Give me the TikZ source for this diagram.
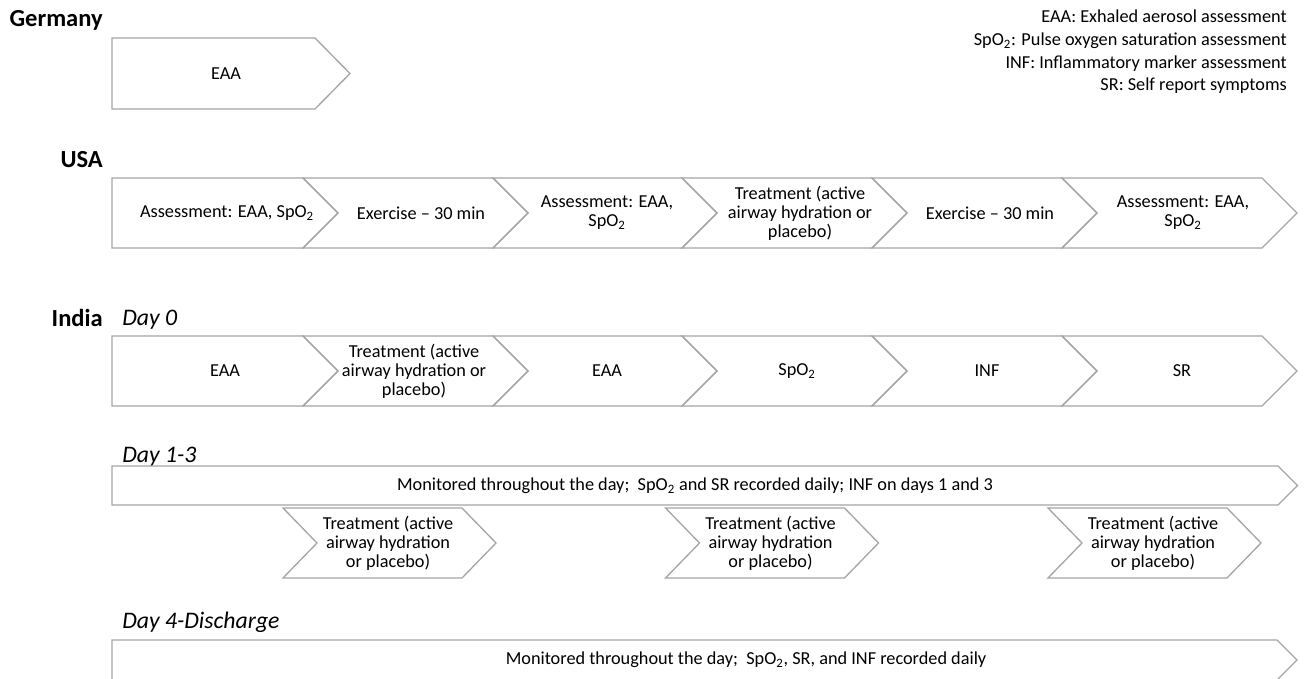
\documentclass[tikz,border=0pt]{standalone}
\usepackage{fontspec}
\setmainfont{Carlito}
\usepackage{tikz}

\definecolor{stageline}{HTML}{A5A5A5}

% one stage of a row: left, shoulder, top, bottom, tip depth, notch depth
\newcommand{\stagebox}[6]{%
  \pgfmathsetmacro{\stagemid}{(#3+#4)/2}
  \draw[stage] (#1,#3) -- (#2,#3) -- (#2+#5,\stagemid) -- (#2,#4) -- (#1,#4) -- (#1+#6,\stagemid) -- cycle;
}

\begin{document}
\begin{tikzpicture}[
    x=0.75pt, y=-0.75pt,
    stage/.style={draw=stageline, line width=1pt, line join=miter},
    every node/.style={font=\fontsize{13.7}{14.4}\selectfont, align=center, inner sep=0pt},
    country/.style={font=\fontsize{18.4}{21}\selectfont\bfseries, anchor=east},
    day/.style={font=\fontsize{17.8}{20}\selectfont\itshape, anchor=west}
]
\useasboundingbox (0,0) rectangle (1306,678);

% Row labels
\node[country] (germany) at (103,20) {Germany};
\node[country] (usa) at (103,160) {USA};
\node[country] (india) at (103,318) {India};
\node[day] (day0) at (122,320) {Day 0};
\node[day] (day13) at (122,457) {Day 1-3};
\node[day] (day4) at (122,622) {Day 4-Discharge};

% Legend
\node[anchor=east, align=right, font=\fontsize{13.7}{17}\selectfont] (legend) at (1287,52)
  {EAA: Exhaled aerosol assessment\\SpO\textsubscript{2}: Pulse oxygen saturation assessment\\INF: Inflammatory marker assessment\\SR: Self report symptoms};

% Germany
\stagebox{112}{315}{38}{109}{35}{0}
\node (gerEAA) at (226,73.5) {EAA};

% USA and India day 0 rows
\foreach \t/\b in {178/248, 336/406} {
  \stagebox{112}{303}{\t}{\b}{35}{0}
  \foreach \l/\r in {303/493, 493/682, 682/872, 872/1062, 1062/1262}
    {\stagebox{\l}{\r}{\t}{\b}{35}{35}}
}

\node (usaA) at (227,213) {Assessment: EAA, SpO\textsubscript{2}};
\node (usaB) at (421,213) {Exercise – 30 min};
\node (usaC) at (607,213) {Assessment: EAA,\\SpO\textsubscript{2}};
\node (usaD) at (800,213) {Treatment (active\\airway hydration or\\placebo)};
\node (usaE) at (990,213) {Exercise – 30 min};
\node (usaF) at (1183,213) {Assessment: EAA,\\SpO\textsubscript{2}};

\node (indA) at (225,371) {EAA};
\node (indB) at (414,371) {Treatment (active\\airway hydration or\\placebo)};
\node (indC) at (607,371) {EAA};
\node (indD) at (797,371) {SpO\textsubscript{2}};
\node (indE) at (987,371) {INF};
\node (indF) at (1182,371) {SR};

% Day 1-3
\stagebox{112}{1278}{466}{505}{19.5}{0}
\node (monitor13) at (695,485.5) {Monitored throughout the day;~ SpO\textsubscript{2} and SR recorded daily; INF on days 1 and 3};
\foreach \l [count=\i] in {283, 665.5, 1048} {
  \stagebox{\l}{\l+179}{508}{578}{34}{34}
  \node (treat\i) at (\l+105,543) {Treatment (active\\airway hydration\\or placebo)};
}

% Day 4-Discharge
\stagebox{112}{1277}{640}{680}{20}{0}
\node (monitor4) at (746,660) {Monitored throughout the day;~ SpO\textsubscript{2}, SR, and INF recorded daily};

\end{tikzpicture}
\end{document}
